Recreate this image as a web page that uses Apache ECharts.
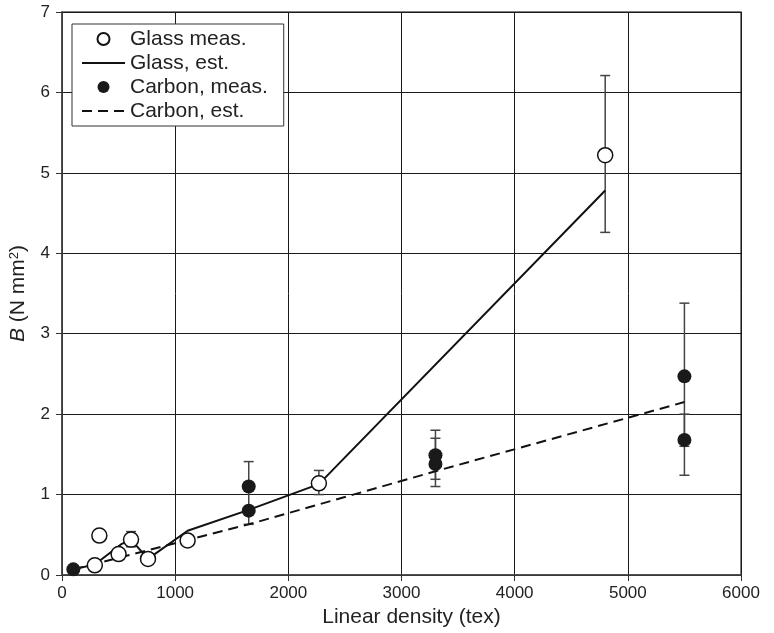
<!DOCTYPE html>
<html>
<head>
<meta charset="utf-8">
<script src="https://cdn.jsdelivr.net/npm/echarts@6/dist/echarts.min.js"></script>
<style>
  html, body { margin: 0; padding: 0; background: #fff; }
  #chart { width: 774px; height: 633px; }
</style>
</head>
<body>
<div id="chart"></div>
<script>
// Glass, measured (open circles)
const glassX = [290, 330, 500, 610, 760, 1110, 2270, 4800];
const glassY = [0.12, 0.49, 0.26, 0.44, 0.20, 0.43, 1.14, 5.22];

// Glass, estimated (solid line)
const glassEstX = [100, 290, 520, 610, 760, 1110, 1650, 2270, 4800];
const glassEstY = [0.07, 0.13, 0.38, 0.44, 0.20, 0.55, 0.81, 1.13, 4.78];

// Carbon, measured (filled circles)
const carbonX = [100, 1650, 1650, 3300, 3300, 5500, 5500];
const carbonY = [0.07, 1.10, 0.80, 1.49, 1.38, 2.47, 1.68];

// Carbon, estimated (dashed line)
const carbonEstX = [100, 1650, 3300, 5500];
const carbonEstY = [0.07, 0.63, 1.29, 2.15];

// error bars: x, low, high
const errX = [610, 2270, 4800, 1650, 3300, 3300, 5500, 5500];
const errLow = [0.35, 1.00, 4.26, 0.63, 1.19, 1.10, 1.60, 1.24];
const errHigh = [0.54, 1.30, 6.21, 1.41, 1.80, 1.70, 3.38, 2.00];

const xTicks = [0, 1000, 2000, 3000, 4000, 5000, 6000];
const yTicks = [0, 1, 2, 3, 4, 5, 6, 7];

const zip = (xs, ys) => xs.map((x, i) => [x, ys[i]]);
const font = 'Liberation Sans, Arial, sans-serif';

let chart = echarts.init(document.getElementById('chart'));

let option = {
    animation: false,
    textStyle: { fontFamily: font, color: '#222' },
    grid: {
        left: 59, right: 33, top: 12, bottom: 55,
        show: true, borderColor: '#555', borderWidth: 1.5
    },
    legend: {
        left: 72, top: 24,
        orient: 'vertical',
        padding: [3, 16, 3, 9],
        itemWidth: 43, itemHeight: 12, itemGap: 0,
        borderColor: '#333', borderWidth: 1,
        backgroundColor: '#fff',
        textStyle: { fontSize: 21, lineHeight: 24, color: '#222', fontFamily: font },
        data: [
            { name: 'Glass meas.' },
            { name: 'Glass, est.', itemStyle: { opacity: 0 } },
            { name: 'Carbon, meas.' },
            { name: 'Carbon, est.', itemStyle: { opacity: 0 } }
        ]
    },
    xAxis: {
        type: 'value',
        min: xTicks[0], max: xTicks[xTicks.length - 1], interval: 1000,
        name: 'Linear density (tex)',
        nameLocation: 'middle', nameGap: 32,
        nameTextStyle: { fontSize: 21, color: '#222', padding: [0, 0, 0, 20] },
        axisLine: { onZero: false, lineStyle: { color: '#444', width: 1.5 } },
        axisTick: { show: true, length: 6, lineStyle: { color: '#333' } },
        axisLabel: { fontSize: 17, color: '#222', margin: 10, formatter: v => String(v) },
        splitLine: { show: true, lineStyle: { color: '#1a1a1a', width: 1 } }
    },
    yAxis: {
        type: 'value',
        min: yTicks[0], max: yTicks[yTicks.length - 1], interval: 1,
        name: '{i|B} (N mm{s|2})',
        nameLocation: 'middle', nameGap: 33,
        nameTextStyle: {
            fontSize: 21, color: '#222',
            rich: {
                i: { fontSize: 21, fontStyle: 'italic', color: '#222', fontFamily: font },
                s: { fontSize: 13, verticalAlign: 'top', color: '#222', fontFamily: font }
            }
        },
        axisLine: { onZero: false, lineStyle: { color: '#444', width: 1.5 } },
        axisTick: { show: true, length: 6, lineStyle: { color: '#333' } },
        axisLabel: { fontSize: 17, color: '#222', margin: 12 },
        splitLine: { show: true, lineStyle: { color: '#1a1a1a', width: 1 } }
    },
    series: [
        {
            name: 'errors',
            type: 'custom',
            z: 1,
            data: errX.map((x, i) => [x, errLow[i], errHigh[i]]),
            renderItem: (params, api) => {
                const lo = api.coord([api.value(0), api.value(1)]);
                const hi = api.coord([api.value(0), api.value(2)]);
                const w = 5;
                const st = { stroke: '#444', lineWidth: 1.5 };
                return {
                    type: 'group',
                    children: [
                        { type: 'line', shape: { x1: lo[0], y1: lo[1], x2: hi[0], y2: hi[1] }, style: st },
                        { type: 'line', shape: { x1: lo[0] - w, y1: lo[1], x2: lo[0] + w, y2: lo[1] }, style: st },
                        { type: 'line', shape: { x1: hi[0] - w, y1: hi[1], x2: hi[0] + w, y2: hi[1] }, style: st }
                    ]
                };
            }
        },
        {
            name: 'Glass, est.',
            type: 'line',
            z: 2,
            symbol: 'none',
            data: zip(glassEstX, glassEstY),
            color: '#111',
            lineStyle: { color: '#111', width: 2 }
        },
        {
            name: 'Carbon, est.',
            type: 'line',
            z: 2,
            symbol: 'none',
            data: zip(carbonEstX, carbonEstY),
            color: '#111',
            lineStyle: { color: '#111', width: 2, type: [10, 6] }
        },
        {
            name: 'Glass meas.',
            type: 'scatter',
            z: 3,
            symbol: 'circle',
            symbolSize: 15,
            data: zip(glassX, glassY),
            itemStyle: { color: '#fff', borderColor: '#111', borderWidth: 1.5, opacity: 1 }
        },
        {
            name: 'Carbon, meas.',
            type: 'scatter',
            z: 3,
            symbol: 'circle',
            symbolSize: 14,
            data: zip(carbonX, carbonY),
            itemStyle: { color: '#1a1a1a', opacity: 1 }
        }
    ]
};

chart.setOption(option);
</script>
</body>
</html>
